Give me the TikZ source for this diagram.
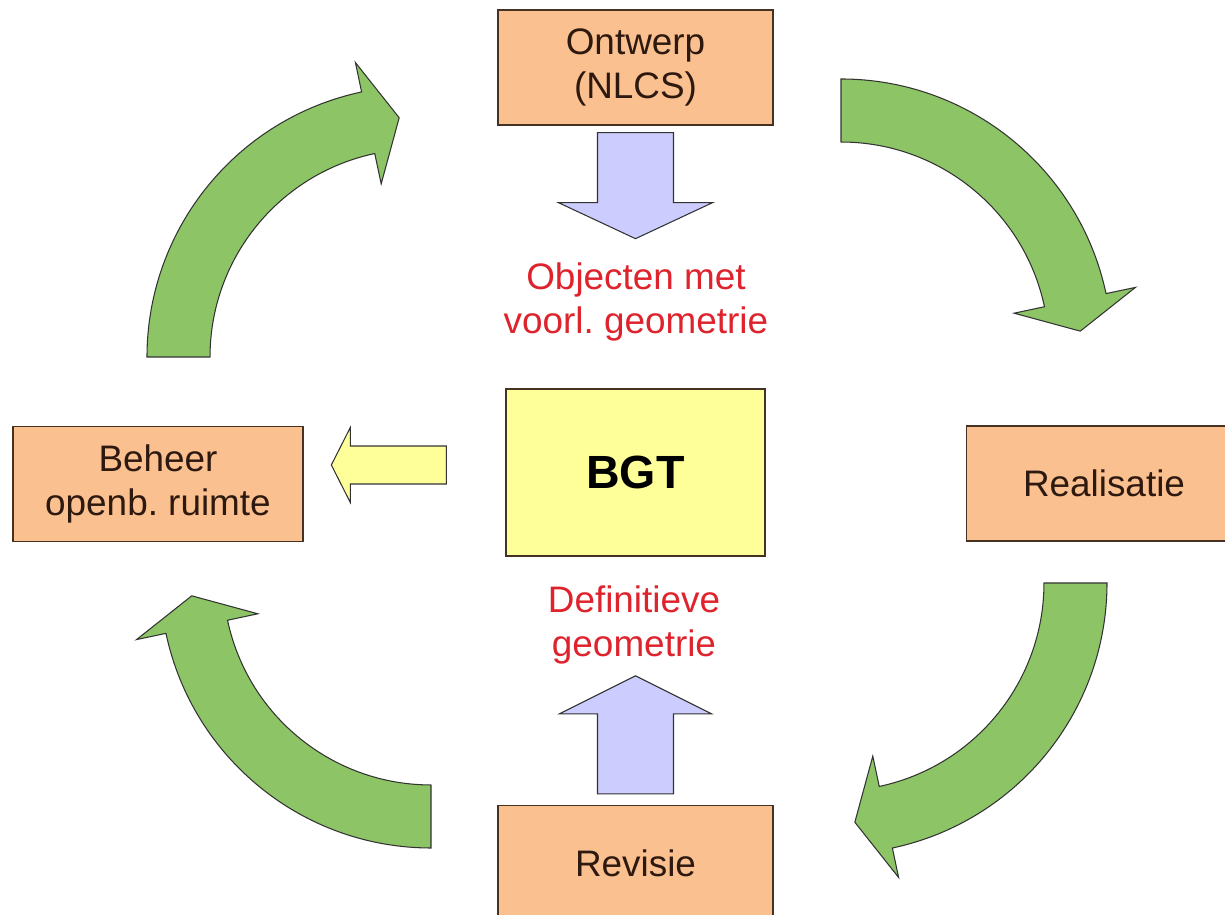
\documentclass[tikz,border=0pt]{standalone}
\usepackage{fontspec}
\setmainfont{Liberation Sans}
\usetikzlibrary{calc}
\frenchspacing

\definecolor{boxorange}{RGB}{250,192,144}
\definecolor{boxline}{RGB}{70,50,35}
\definecolor{bgtyellow}{RGB}{255,255,153}
\definecolor{flowblue}{RGB}{204,204,255}
\definecolor{cyclegreen}{RGB}{141,197,102}
\definecolor{labelred}{RGB}{222,35,45}
\definecolor{textbrown}{RGB}{45,25,15}

% curved block arrow round a centre, clockwise from a start angle
\newcommand{\ringarrow}[2]{%
  \draw[cyclearrow] ($(#1)+(#2:208)$) -- ($(#1)+(#2:271)$)
    arc[start angle=#2, delta angle=-78, radius=5.42cm]
    -- ($(#1)+({#2-78}:301)$) -- ($(#1)+({#2-85.5}:240)$)
    -- ($(#1)+({#2-78}:177)$) -- ($(#1)+({#2-78}:208)$)
    arc[start angle={#2-78}, delta angle=78, radius=4.16cm] -- cycle;}

\begin{document}
\begin{tikzpicture}[x=0.02cm, y=0.02cm,
  every node/.style={font=\fontsize{21}{25}\selectfont},
  stage/.style={draw=boxline, line width=0.8pt, fill=boxorange, text=textbrown,
    align=center, minimum width=5.5cm, minimum height=2.3cm},
  cyclearrow/.style={draw=black!80, line width=0.6pt, fill=cyclegreen},
  flow/.style={draw=black!80, line width=0.6pt, fill=flowblue},
  note/.style={text=labelred, align=center}]
	\useasboundingbox (0,0) rectangle (1225,915);
	\clip (0,0) rectangle (1225,915);

	\coordinate (ringtl) at (418,558);
	\coordinate (ringtr) at (841,565);
	\coordinate (ringbr) at (836,332);
	\coordinate (ringbl) at (431,338);

	% process steps
	\node[stage] (ontwerp) at (635.5,847.5) {Ontwerp\\(NLCS)};
	\node[stage, minimum width=5.8cm] (beheer) at (158,431) {Beheer\\openb. ruimte};
	\node[stage] (realisatie) at (1104,431.5) {Realisatie};
	\node[stage] (revisie) at (635.5,52) {Revisie};

	% central register
	\node[draw=boxline, line width=0.8pt, fill=bgtyellow, minimum width=5.18cm,
	  minimum height=3.34cm, font=\bfseries\fontsize{26.5}{30}\selectfont] (bgt) at (635.5,442.5) {BGT};

	% geometry labels
	\node[note] (voorlopig) at (636,613) {Objecten met\\voorl. geometrie};
	\node[note] (definitief) at (634,290) {Definitieve\\geometrie};

	% cycle arrows
	\ringarrow{ringtl}{180}
	\ringarrow{ringtr}{90}
	\ringarrow{ringbr}{0}
	\ringarrow{ringbl}{270}

	% ontwerp -> voorlopige geometrie
	\draw[flow] ($(ontwerp.south)+(-38,-7)$) -- ++(76,0) -- ++(0,-70) -- ++(39,0)
	  -- ++(-77,-36) -- ++(-77,36) -- ++(39,0) -- cycle;
	% revisie -> definitieve geometrie
	\draw[flow] ($(revisie.north)+(-38,11)$) -- ++(76,0) -- ++(0,80) -- ++(38,0)
	  -- ++(-76,38) -- ++(-76,-38) -- ++(38,0) -- cycle;
	% bgt -> beheer
	\draw[flow, fill=bgtyellow] ($(bgt.west)+(-59,26.5)$) -- ++(-96,0) -- ++(0,18.5)
	  -- ++(-19,-37.5) -- ++(19,-37.5) -- ++(0,18.5) -- ++(96,0) -- cycle;
\end{tikzpicture}
\end{document}
